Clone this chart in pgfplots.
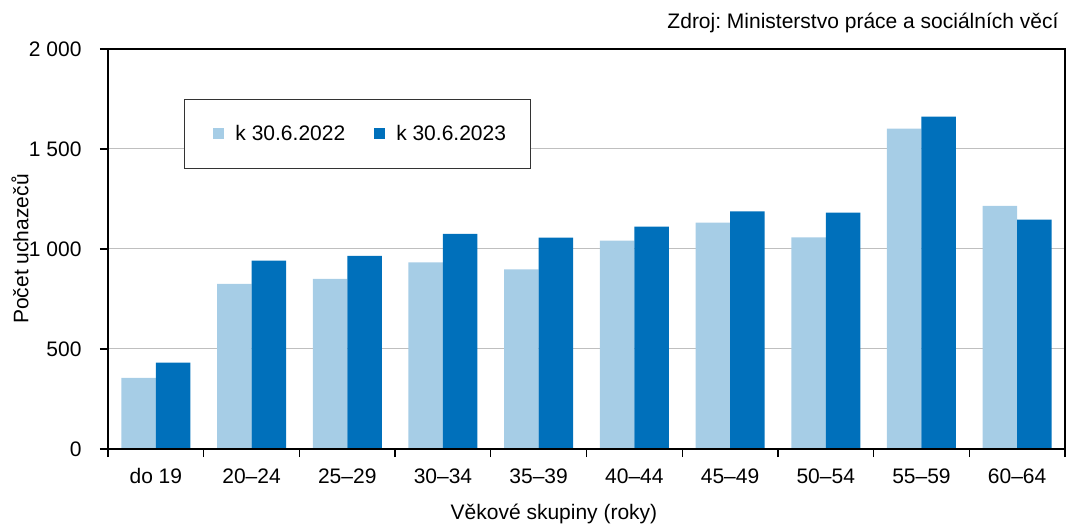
\documentclass[border=0pt]{standalone}
\usepackage{fontspec}
\setmainfont{Liberation Sans}
\usepackage{pgfplots}
\pgfplotsset{compat=1.18}
\definecolor{light}{RGB}{166,205,230}
\definecolor{dark}{RGB}{0,112,187}
\newcommand\ff{\fontsize{21}{25}\selectfont}
\pgfplotsset{sqleg/.style={legend image code/.code={%
  \path (0pt,0pt);
  \fill[##1] (5pt,-5.5pt) rectangle (16pt,5.5pt);}}}
\frenchspacing

\begin{document}
\begin{tikzpicture}
\begin{axis}[
  name=ax,
  width=957pt, height=400pt, scale only axis,
  ybar=0pt, bar width=34.5pt,
  xmin=-0.5, xmax=9.5, ymin=0, ymax=2000,
  xtick={0,...,9},
  xticklabels={do 19,20--24,25--29,30--34,35--39,40--44,45--49,50--54,55--59,60--64},
  minor xtick={-0.5,0.5,...,9.5},
  ytick={0,500,1000,1500,2000},
  yticklabels={0,500,1 000,1 500,2 000},
  xtick pos=bottom, ytick pos=left,
  tick align=outside, major tick length=8pt, minor tick length=8pt,
  major x tick style={draw=none},
  tick style={black, line width=1.3pt},
  axis line style={black, line width=1.3pt},
  ymajorgrids, grid style={black!25, line width=1pt},
  tick label style={font=\ff},
  xticklabel style={anchor=base, yshift=-26pt},
  yticklabel style={xshift=-15pt},
  label style={font=\ff},
  xlabel={Věkové skupiny (roky)},
  xlabel style={at={(axis description cs:0.466,0)}, anchor=base, yshift=-70pt},
  ylabel={Počet uchazečů},
  ylabel style={at={(axis description cs:-0.092,0.5)}, anchor=center},
  legend columns=2,
  legend style={at={(axis description cs:0.0794,0.875)}, anchor=north west,
    draw=black!80, line width=1pt, inner xsep=24pt, inner ysep=26pt,
    font=\ff, nodes={inner sep=0pt},
    /tikz/every odd column/.append style={column sep=11pt},
    /tikz/every even column/.append style={column sep=24pt}},
]
\addplot[fill=light, draw=none, sqleg] coordinates {
  (0,355) (1,825) (2,850) (3,933) (4,898)
  (5,1042) (6,1132) (7,1058) (8,1602) (9,1215)};
\addplot[fill=dark, draw=none, sqleg] coordinates {
  (0,432) (1,942) (2,965) (3,1075) (4,1057)
  (5,1112) (6,1188) (7,1182) (8,1662) (9,1147)};
\legend{k 30.6.2022, k 30.6.2023}
\end{axis}
\draw[black, line width=1.3pt] (ax.south west) rectangle (ax.north east);
\node[anchor=base east, font=\ff] at ([xshift=-3pt, yshift=20pt]ax.north east) {Zdroj: Ministerstvo práce a sociálních věcí};
\pgfresetboundingbox
\useasboundingbox (-108pt,-75pt) rectangle (959pt,449pt);
\end{tikzpicture}
\end{document}
